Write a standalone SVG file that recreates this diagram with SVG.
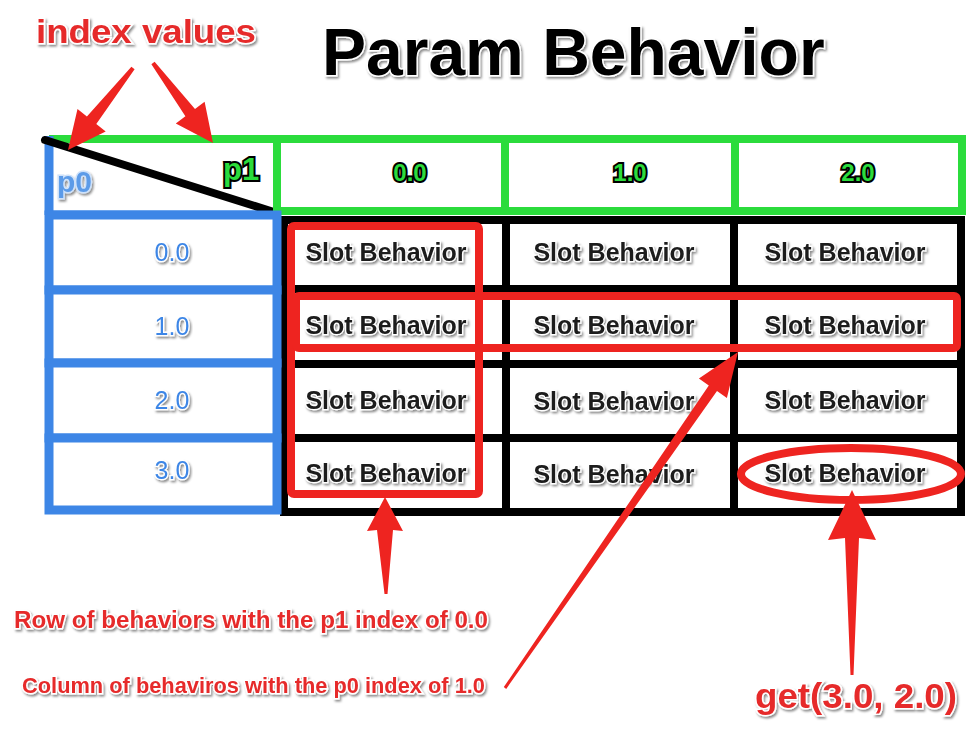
<svg xmlns="http://www.w3.org/2000/svg" width="966" height="736" viewBox="0 0 966 736">
<defs>
<filter id="sh" x="-10%" y="-30%" width="120%" height="160%">
<feDropShadow dx="1.5" dy="2" stdDeviation="1.2" flood-color="#000" flood-opacity="0.45"/>
</filter>
<style>
.t{font-family:"Liberation Sans",Arial,sans-serif;font-weight:bold}
.red{fill:#e62a2a;stroke:#fff;stroke-width:3;paint-order:stroke;filter:url(#sh)}
.slot{font-size:25px;fill:#1c1c1c;stroke:#fff;stroke-width:2.5;paint-order:stroke;filter:url(#sh);text-anchor:middle}
.rowlab{font-size:25px;font-weight:normal;fill:#3d86e6;stroke:#fff;stroke-width:2.5;paint-order:stroke;filter:url(#sh);text-anchor:middle}
.collab{font-size:24px;fill:#2bdc3c;stroke:#000;stroke-width:4;paint-order:stroke;text-anchor:middle}
.blue{fill:#fff;stroke:#3d86e6;stroke-width:9}
.green{fill:#fff;stroke:#2bdc3c;stroke-width:8}
.cell{fill:#fff;stroke:#000;stroke-width:8}
.hl{fill:none;stroke:#ee2420;stroke-width:8}
.arr{fill:#ee2420}
</style>
</defs>
<rect width="966" height="736" fill="#fff"/>

<text class="t red" x="36" y="43" font-size="34" textLength="220" lengthAdjust="spacingAndGlyphs">index values</text>
<text class="t" x="322" y="75" font-size="66" fill="#000" stroke="#fff" stroke-width="3" paint-order="stroke" filter="url(#sh)">Param Behavior</text>

<g id="header-corner">
<line x1="49" y1="139" x2="277" y2="139" stroke="#2bdc3c" stroke-width="8"/>
<line x1="277" y1="139" x2="277" y2="211" stroke="#2bdc3c" stroke-width="8"/>
<line x1="49" y1="136" x2="49" y2="215" stroke="#3d86e6" stroke-width="9"/>
<line x1="45" y1="215" x2="281" y2="215" stroke="#3d86e6" stroke-width="9"/>
<line x1="45" y1="140" x2="277" y2="213" stroke="#000" stroke-width="8" stroke-linecap="round"/>
<text class="t" x="57" y="192" font-size="30" fill="#5b9be8" stroke="#cfe2fa" stroke-width="3" paint-order="stroke" filter="url(#sh)">p0</text>
<text class="t" x="223" y="180" font-size="31" fill="#2bdc3c" stroke="#000" stroke-width="4" paint-order="stroke">p1</text>
</g>

<g id="col-0"><rect class="green" x="277" y="139" width="228" height="72"/><text class="t collab" x="410" y="181">0.0</text></g>
<g id="col-1"><rect class="green" x="505" y="139" width="230" height="72"/><text class="t collab" x="630" y="181">1.0</text></g>
<g id="col-2"><rect class="green" x="735" y="139" width="227" height="72"/><text class="t collab" x="858" y="181">2.0</text></g>

<g id="cells">
<g id="c00"><rect class="cell" x="284" y="220" width="222" height="69"/><text class="t slot" x="386" y="261">Slot Behavior</text></g>
<g id="c01"><rect class="cell" x="506" y="220" width="228" height="69"/><text class="t slot" x="614" y="261">Slot Behavior</text></g>
<g id="c02"><rect class="cell" x="734" y="220" width="227" height="69"/><text class="t slot" x="845" y="261">Slot Behavior</text></g>
<g id="c10"><rect class="cell" x="284" y="289" width="222" height="75"/><text class="t slot" x="386" y="334">Slot Behavior</text></g>
<g id="c11"><rect class="cell" x="506" y="289" width="228" height="75"/><text class="t slot" x="614" y="334">Slot Behavior</text></g>
<g id="c12"><rect class="cell" x="734" y="289" width="227" height="75"/><text class="t slot" x="845" y="334">Slot Behavior</text></g>
<g id="c20"><rect class="cell" x="284" y="364" width="222" height="74"/><text class="t slot" x="386" y="409">Slot Behavior</text></g>
<g id="c21"><rect class="cell" x="506" y="364" width="228" height="74"/><text class="t slot" x="614" y="410">Slot Behavior</text></g>
<g id="c22"><rect class="cell" x="734" y="364" width="227" height="74"/><text class="t slot" x="845" y="409">Slot Behavior</text></g>
<g id="c30"><rect class="cell" x="284" y="438" width="222" height="74"/><text class="t slot" x="386" y="482">Slot Behavior</text></g>
<g id="c31"><rect class="cell" x="506" y="438" width="228" height="74"/><text class="t slot" x="614" y="483">Slot Behavior</text></g>
<g id="c32"><rect class="cell" x="734" y="438" width="227" height="74"/><text class="t slot" x="845" y="482">Slot Behavior</text></g>
</g>

<g id="row-0"><rect class="blue" x="49" y="215" width="228" height="75"/><text class="t rowlab" x="172" y="261">0.0</text></g>
<g id="row-1"><rect class="blue" x="49" y="290" width="228" height="73"/><text class="t rowlab" x="172" y="335">1.0</text></g>
<g id="row-2"><rect class="blue" x="49" y="363" width="228" height="75"/><text class="t rowlab" x="172" y="409">2.0</text></g>
<g id="row-3"><rect class="blue" x="49" y="438" width="228" height="72"/><text class="t rowlab" x="172" y="479">3.0</text></g>

<g id="highlights">
<rect class="hl" x="291" y="226" width="188" height="268" rx="3"/>
<rect class="hl" x="296" y="296" width="661" height="52" rx="3"/>
<ellipse class="hl" cx="851" cy="474" rx="110" ry="26" stroke-width="7"/>
</g>

<g id="connectors">
<polygon class="arr" points="134.6,69.2 96.3,123.9 105.7,131.4 68,150 77.5,109 86.9,116.5 131.4,66.8"/>
<polygon class="arr" points="154.6,61.8 195,109 204.6,101.8 213,143 175.8,123.4 185.4,116.2 151.4,64.2"/>
<polygon class="arr" points="384.5,594 377,530 367,531 385,497 403,531 393,530 387.5,594"/>
<polygon class="arr" points="503.8,687.1 708.8,385.4 698.9,378.5 738,352 726.9,397.9 717,391.1 506.2,688.9"/>
<polygon class="arr" points="850.5,675 845,538 828,540 852,490 876,540 859,538 853.5,675"/>
</g>

<text class="t red" x="14" y="628" font-size="24" textLength="474" lengthAdjust="spacingAndGlyphs">Row of behaviors with the p1 index of 0.0</text>
<text class="t red" x="22" y="693" font-size="22" textLength="463" lengthAdjust="spacingAndGlyphs">Column of behaviros with the p0 index of 1.0</text>
<text class="t red" x="755" y="708" font-size="35" textLength="202" lengthAdjust="spacingAndGlyphs">get(3.0, 2.0)</text>
</svg>
